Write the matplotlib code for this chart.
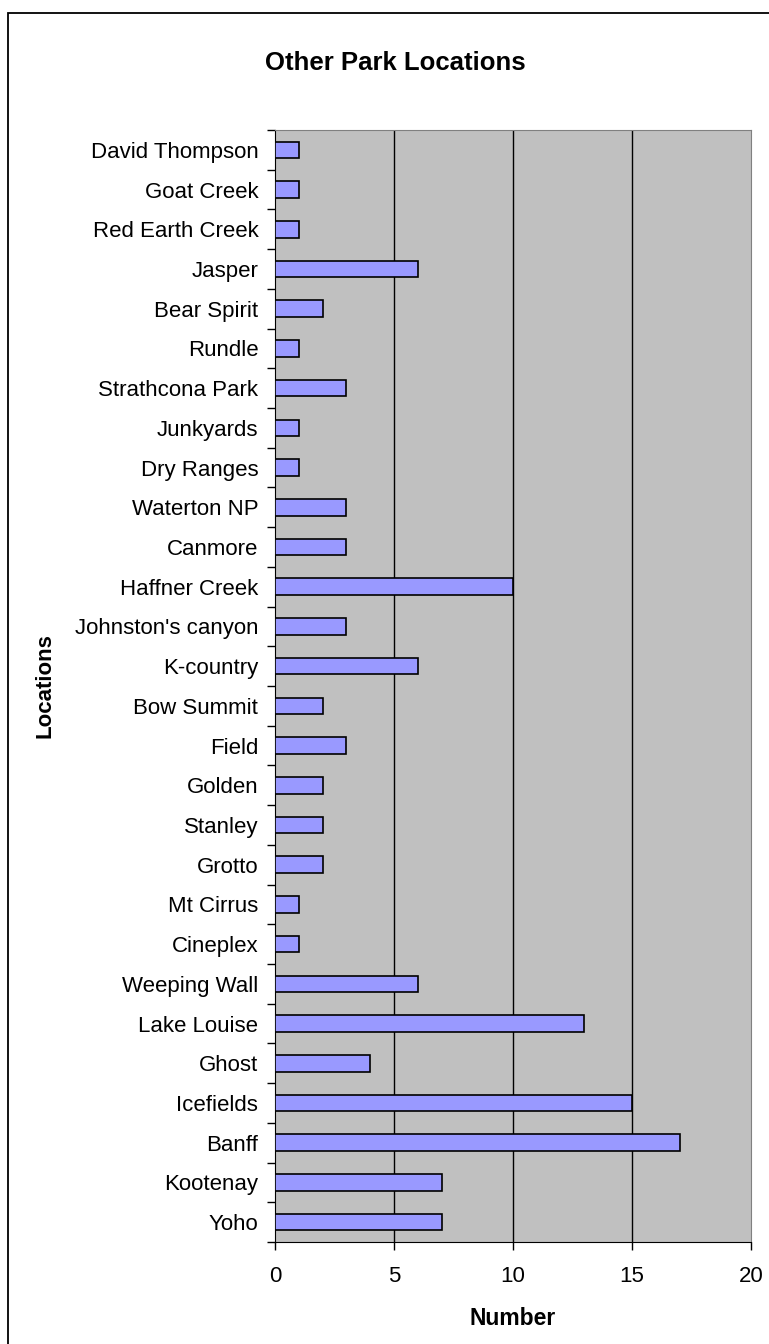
import matplotlib.pyplot as plt
import numpy as np
from matplotlib.patches import Rectangle

plt.rcParams['font.family'] = ['Liberation Sans', 'DejaVu Sans']

# locations listed bottom to top, as drawn on the y axis
locations = ["Yoho", "Kootenay", "Banff", "Icefields", "Ghost", "Lake Louise",
             "Weeping Wall", "Cineplex", "Mt Cirrus", "Grotto", "Stanley",
             "Golden", "Field", "Bow Summit", "K-country", "Johnston's canyon",
             "Haffner Creek", "Canmore", "Waterton NP", "Dry Ranges",
             "Junkyards", "Strathcona Park", "Rundle", "Bear Spirit", "Jasper",
             "Red Earth Creek", "Goat Creek", "David Thompson"]
counts = [7, 7, 17, 15, 4, 13, 6, 1, 1, 2, 2, 2, 3, 2, 6, 3, 10, 3, 3, 1,
          1, 3, 1, 2, 6, 1, 1, 1]
x_ticks = [0, 5, 10, 15, 20]

W, H = 769, 1344
fig = plt.figure(figsize=(W / 100, H / 100), dpi=100)
ax = fig.add_axes([275 / W, 102 / H, 476 / W, 1112 / H])

# chart border; right and bottom edges run off the canvas
fig.patches.append(Rectangle((8 / W, -0.1), 1.2, 1.1 - 13 / H,
                             transform=fig.transFigure, fill=False,
                             edgecolor='black', linewidth=1.3))

y = np.arange(len(locations))
ax.set_facecolor('#C0C0C0')
ax.barh(y, counts, height=0.42, color='#9999FF', edgecolor='black',
        linewidth=1.2, zorder=3)

ax.set_xlim(0, 20)
ax.set_ylim(-0.5, len(locations) - 0.5)
ax.set_xticks(x_ticks)
ax.set_xticklabels([str(v) for v in x_ticks], fontsize=16)
for v in x_ticks[1:-1]:
    ax.axvline(v, color='black', linewidth=1, zorder=1)

# category labels centred, tick marks on the category boundaries
ax.set_yticks(y)
ax.set_yticklabels(locations, fontsize=16)
ax.tick_params(axis='y', which='major', length=0, pad=12)
ax.set_yticks(np.arange(-0.5, len(locations)), minor=True)
ax.tick_params(axis='y', which='minor', length=6, width=1)
ax.tick_params(axis='x', length=6, width=1, pad=11)

for side in ['top', 'right']:
    ax.spines[side].set_color('#808080')
for side in ['left', 'bottom']:
    ax.spines[side].set_color('black')

fig.text(395 / W, 1 - 63 / H, "Other Park Locations", fontsize=18.5,
         fontweight='bold', ha='center', va='center')
ax.set_xlabel("Number", fontsize=16.5, fontweight='bold', labelpad=15)
ax.set_ylabel("Locations", fontsize=16, fontweight='bold', labelpad=14)

fig.savefig("out.png", dpi=100)
